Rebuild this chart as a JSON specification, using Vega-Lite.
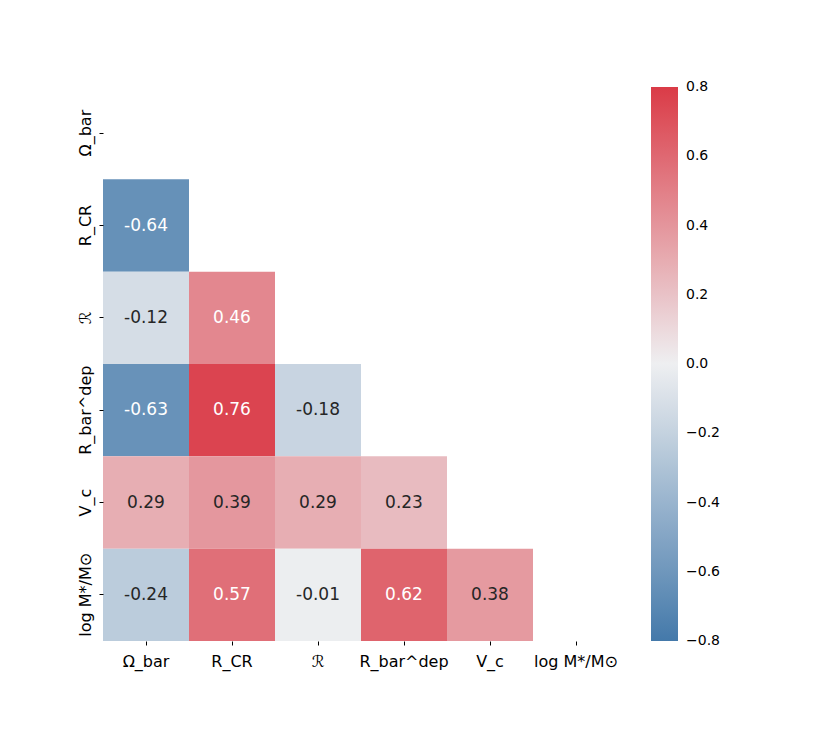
{
  "$schema": "https://vega.github.io/schema/vega-lite/v6.json",
  "width": 516,
  "height": 554,
  "autosize": {"type": "none"},
  "padding": {"left": 103, "top": 87, "right": 211, "bottom": 92},
  "background": "white",
  "config": {
    "view": {"stroke": null},
    "font": "DejaVu Sans"
  },
  "data": {
    "values": [
      {"row": "R_CR", "col": "Ω_bar", "r": -0.64},
      {"row": "ℛ", "col": "Ω_bar", "r": -0.12},
      {"row": "ℛ", "col": "R_CR", "r": 0.46},
      {"row": "R_bar^dep", "col": "Ω_bar", "r": -0.63},
      {"row": "R_bar^dep", "col": "R_CR", "r": 0.76},
      {"row": "R_bar^dep", "col": "ℛ", "r": -0.18},
      {"row": "V_c", "col": "Ω_bar", "r": 0.29},
      {"row": "V_c", "col": "R_CR", "r": 0.39},
      {"row": "V_c", "col": "ℛ", "r": 0.29},
      {"row": "V_c", "col": "R_bar^dep", "r": 0.23},
      {"row": "log M*/M⊙", "col": "Ω_bar", "r": -0.24},
      {"row": "log M*/M⊙", "col": "R_CR", "r": 0.57},
      {"row": "log M*/M⊙", "col": "ℛ", "r": -0.01},
      {"row": "log M*/M⊙", "col": "R_bar^dep", "r": 0.62},
      {"row": "log M*/M⊙", "col": "V_c", "r": 0.38}
    ]
  },
  "encoding": {
    "x": {
      "field": "col",
      "type": "nominal",
      "sort": null,
      "scale": {
        "domain": ["Ω_bar", "R_CR", "ℛ", "R_bar^dep", "V_c", "log M*/M⊙"],
        "paddingInner": 0,
        "paddingOuter": 0
      },
      "axis": {
        "title": null,
        "domain": false,
        "labelAngle": 0,
        "labelFontSize": 16,
        "labelColor": "black",
        "tickColor": "black",
        "tickSize": 4,
        "labelPadding": 8
      }
    },
    "y": {
      "field": "row",
      "type": "nominal",
      "sort": null,
      "scale": {
        "domain": ["Ω_bar", "R_CR", "ℛ", "R_bar^dep", "V_c", "log M*/M⊙"],
        "paddingInner": 0,
        "paddingOuter": 0
      },
      "axis": {
        "title": null,
        "domain": false,
        "labelAngle": 270,
        "labelAlign": "center",
        "labelBaseline": "bottom",
        "labelFontSize": 16,
        "labelColor": "black",
        "tickColor": "black",
        "tickSize": 4,
        "labelPadding": 6
      }
    }
  },
  "layer": [
    {
      "mark": {"type": "rect"},
      "encoding": {
        "color": {
          "field": "r",
          "type": "quantitative",
          "scale": {
            "domain": [-0.8, 0, 0.8],
            "range": ["#4479aa", "#eeeff1", "#da3b47"],
            "interpolate": "rgb"
          },
          "legend": {
            "title": null,
            "orient": "none",
            "legendX": 548,
            "legendY": 0,
            "direction": "vertical",
            "gradientLength": 554,
            "gradientThickness": 27,
            "gradientStrokeWidth": 0,
            "values": [-0.8, -0.6, -0.4, -0.2, 0, 0.2, 0.4, 0.6, 0.8],
            "labelExpr": "replace(format(datum.value, '.1f'), '-', '−')",
            "labelFontSize": 14,
            "labelColor": "black",
            "labelOffset": 8,
            "labelOverlap": false,
            "encode": {
              "labels": {
                "update": {"baseline": {"value": "middle"}}
              }
            }
          }
        }
      }
    },
    {
      "mark": {
        "type": "text",
        "fontSize": 17,
        "text": {"expr": "replace(format(datum.r, '.2f'), '−', '-')"}
      },
      "encoding": {
        "color": {
          "condition": {"test": "abs(datum.r) >= 0.45", "value": "white"},
          "value": "#262626"
        }
      }
    }
  ]
}
